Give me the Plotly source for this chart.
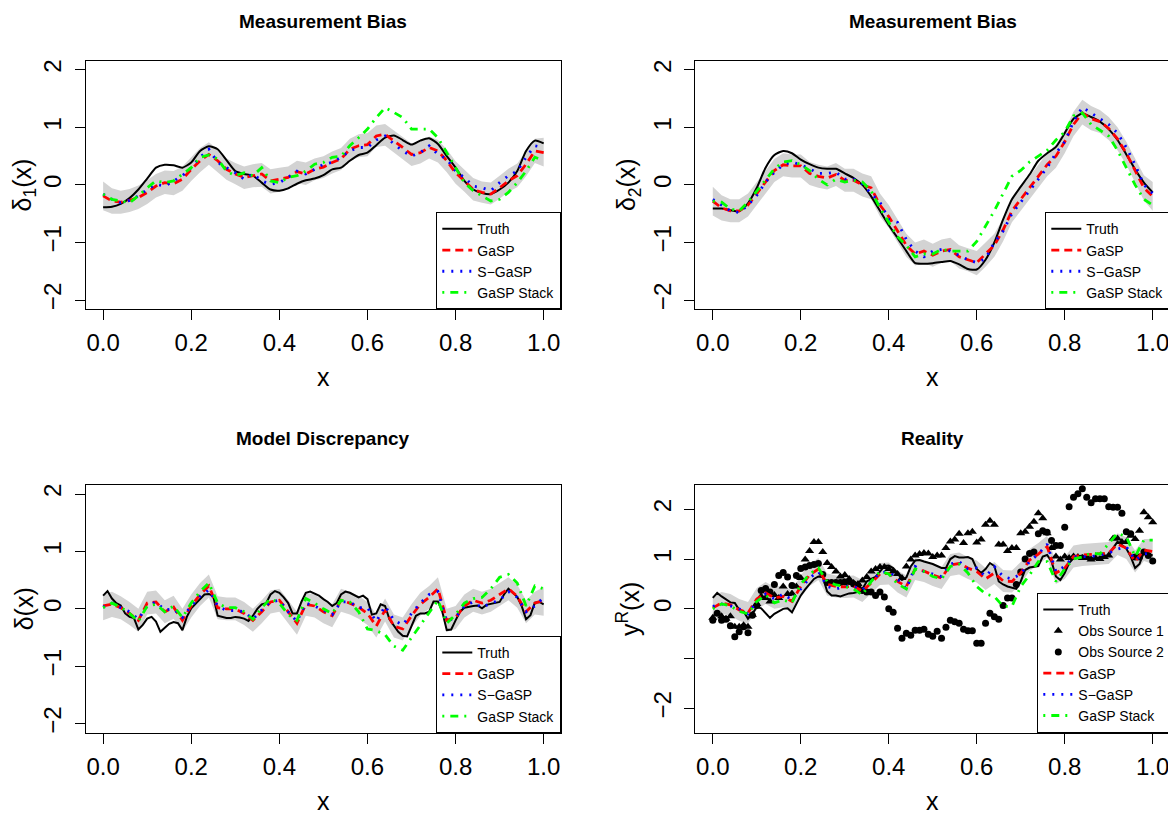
import plotly.graph_objects as go

# The page body adds an 8px margin, so the figure is laid out 8px smaller
OFF = 8
W, H = 1176 - OFF, 818 - OFF

# ---------------- data ----------------
x51 = [round(i * 0.02, 2) for i in range(51)]
x101 = [round(i * 0.01, 2) for i in range(101)]

# Panel 1: measurement bias delta_1
p1_truth = [-0.39,-0.38,-0.33,-0.23,-0.08,0.11,0.30,0.35,0.34,0.30,0.39,0.59,0.67,0.62,0.43,0.24,0.19,0.16,0.04,-0.08,
            -0.10,-0.06,0.02,0.08,0.11,0.17,0.27,0.30,0.42,0.52,0.56,0.69,0.82,0.86,0.78,0.70,0.77,0.81,0.71,0.50,
            0.30,0.07,-0.08,-0.14,-0.16,-0.08,0.04,0.24,0.59,0.77,0.72]
p1_gasp = [-0.19,-0.28,-0.30,-0.27,-0.22,-0.13,-0.02,0.04,0.02,0.10,0.27,0.42,0.53,0.42,0.27,0.19,0.13,0.16,0.19,0.07,
           0.10,0.13,0.23,0.19,0.27,0.31,0.39,0.45,0.62,0.68,0.70,0.85,0.88,0.77,0.65,0.53,0.56,0.65,0.59,0.42,
           0.21,0.07,-0.08,-0.13,-0.16,-0.05,0.07,0.16,0.36,0.59,0.56]
p1_sgasp = [-0.16,-0.25,-0.31,-0.27,-0.19,-0.08,0.01,-0.02,0.07,0.16,0.30,0.48,0.62,0.39,0.30,0.21,0.10,0.19,0.07,0.01,
            0.04,0.13,0.24,0.19,0.27,0.36,0.39,0.48,0.59,0.65,0.65,0.78,0.85,0.71,0.59,0.50,0.56,0.68,0.53,0.45,
            0.24,0.13,-0.02,-0.05,-0.10,0.04,0.16,0.24,0.48,0.68,0.65]
p1_stack = [-0.16,-0.25,-0.28,-0.31,-0.19,-0.05,0.07,0.04,0.07,0.19,0.30,0.48,0.52,0.45,0.24,0.16,0.21,0.16,0.30,0.07,
            0.04,0.13,0.16,0.24,0.36,0.39,0.48,0.50,0.68,0.82,0.97,1.17,1.34,1.26,1.17,0.97,0.97,0.97,0.82,0.56,
            0.30,0.04,-0.10,-0.19,-0.28,-0.25,-0.13,0.04,0.24,0.48,0.42]
p1_lo = [-0.44,-0.50,-0.50,-0.47,-0.42,-0.33,-0.22,-0.16,-0.18,-0.10,0.07,0.22,0.35,0.22,0.09,0.01,-0.07,-0.04,-0.03,-0.15,
         -0.12,-0.07,0.03,0.00,0.08,0.12,0.20,0.26,0.42,0.48,0.50,0.66,0.68,0.57,0.45,0.33,0.37,0.46,0.39,0.22,
         0.02,-0.12,-0.27,-0.31,-0.34,-0.24,-0.12,-0.04,0.15,0.38,0.32]
p1_hi = [0.06,-0.06,-0.10,-0.07,-0.01,0.08,0.19,0.25,0.24,0.32,0.48,0.64,0.74,0.62,0.46,0.38,0.32,0.36,0.38,0.27,
         0.30,0.32,0.42,0.39,0.46,0.50,0.58,0.64,0.80,0.88,0.90,1.03,1.06,0.95,0.84,0.72,0.75,0.84,0.78,0.62,
         0.41,0.27,0.12,0.06,0.04,0.16,0.28,0.37,0.58,0.80,0.82]

# Panel 2: measurement bias delta_2
p2_truth = [-0.41,-0.41,-0.44,-0.46,-0.32,-0.05,0.30,0.52,0.59,0.55,0.44,0.36,0.30,0.28,0.28,0.20,0.12,0.00,-0.20,-0.45,
            -0.70,-0.92,-1.15,-1.36,-1.37,-1.36,-1.34,-1.32,-1.38,-1.46,-1.47,-1.30,-1.00,-0.60,-0.25,-0.03,0.18,0.42,0.55,0.66,
            0.90,1.15,1.24,1.18,1.10,0.97,0.78,0.53,0.27,0.04,-0.13]
p2_gasp = [-0.28,-0.40,-0.45,-0.45,-0.35,-0.15,0.05,0.25,0.35,0.33,0.33,0.20,0.15,0.12,0.18,0.08,0.08,0.00,-0.05,-0.35,
           -0.55,-0.80,-1.05,-1.20,-1.15,-1.22,-1.15,-1.12,-1.25,-1.30,-1.35,-1.20,-1.05,-0.78,-0.45,-0.25,-0.05,0.15,0.35,0.50,
           0.75,1.05,1.25,1.15,1.10,0.98,0.80,0.55,0.25,-0.05,-0.20]
p2_sgasp = [-0.25,-0.35,-0.45,-0.48,-0.35,-0.18,0.05,0.22,0.35,0.40,0.35,0.28,0.20,0.20,0.22,0.10,0.10,0.02,-0.15,-0.30,
            -0.60,-0.65,-0.95,-1.15,-1.25,-1.15,-1.12,-1.15,-1.22,-1.30,-1.35,-1.28,-1.00,-0.80,-0.50,-0.30,-0.10,0.10,0.30,0.55,
            0.75,1.10,1.35,1.25,1.15,1.05,0.90,0.65,0.35,0.00,-0.15]
p2_stack = [-0.28,-0.30,-0.42,-0.45,-0.30,-0.10,0.10,0.28,0.40,0.42,0.35,0.25,0.10,0.00,0.10,0.05,0.08,0.05,-0.10,-0.40,
            -0.65,-0.90,-1.05,-1.25,-1.20,-1.20,-1.12,-1.15,-1.15,-1.15,-0.98,-0.72,-0.45,-0.15,0.15,0.25,0.40,0.50,0.60,0.78,
            0.92,1.20,1.25,1.05,0.95,0.85,0.60,0.30,0.00,-0.25,-0.35]
p2_lo = [-0.53,-0.62,-0.65,-0.65,-0.55,-0.35,-0.15,0.05,0.15,0.13,0.13,0.00,-0.05,-0.08,-0.02,-0.12,-0.12,-0.20,-0.25,-0.55,
         -0.75,-1.00,-1.25,-1.40,-1.35,-1.42,-1.35,-1.32,-1.45,-1.50,-1.57,-1.42,-1.25,-0.98,-0.65,-0.45,-0.25,-0.05,0.15,0.30,
         0.55,0.85,1.05,0.95,0.90,0.78,0.60,0.35,0.05,-0.27,-0.45]
p2_hi = [-0.03,-0.18,-0.25,-0.25,-0.15,0.05,0.25,0.45,0.55,0.53,0.53,0.40,0.35,0.32,0.38,0.28,0.28,0.20,0.15,-0.15,
         -0.35,-0.60,-0.85,-1.00,-0.95,-1.02,-0.95,-0.92,-1.05,-1.10,-1.15,-1.00,-0.85,-0.58,-0.25,-0.05,0.15,0.35,0.55,0.70,
         0.95,1.27,1.48,1.37,1.30,1.18,1.00,0.75,0.45,0.17,0.05]

# Panel 3: model discrepancy
p3_truth = [0.23,0.31,0.18,0.10,0.06,-0.08,-0.14,-0.16,-0.36,-0.28,
            -0.17,-0.14,-0.22,-0.40,-0.33,-0.26,-0.23,-0.25,-0.37,-0.14,
            0.01,0.09,0.17,0.25,0.26,0.22,-0.12,-0.14,-0.16,-0.16,
            -0.14,-0.15,-0.17,-0.21,-0.12,0.00,0.08,0.10,0.25,0.31,
            0.28,0.20,0.10,-0.08,-0.08,0.12,0.28,0.30,0.26,0.23,
            0.17,0.12,0.05,0.10,0.25,0.30,0.28,0.24,0.20,0.23,
            0.17,-0.10,-0.08,0.08,0.05,-0.18,-0.30,-0.40,-0.47,-0.48,
            -0.30,-0.12,-0.08,-0.08,-0.05,0.13,0.13,-0.05,-0.37,-0.36,
            -0.20,-0.05,0.02,0.04,0.05,0.06,0.01,0.07,0.09,0.11,
            0.12,0.25,0.35,0.28,0.21,0.05,-0.18,-0.11,0.11,0.12,
            0.08]
p3_gasp = [0.05,0.08,0.02,-0.08,-0.20,0.10,0.12,-0.05,0.03,-0.20,0.05,0.25,0.40,0.02,0.00,0.00,-0.08,-0.20,-0.05,0.12,
           0.15,-0.05,-0.25,0.08,0.05,-0.05,-0.12,0.15,0.10,0.03,-0.08,-0.30,-0.02,-0.30,-0.35,-0.12,0.08,0.20,0.35,-0.20,
           -0.15,0.05,0.15,0.10,0.15,0.25,0.35,0.22,-0.05,0.10,0.15]
p3_sgasp = [0.03,0.10,0.02,-0.05,-0.18,0.05,0.12,-0.02,0.00,-0.15,0.05,0.22,0.33,0.05,-0.03,-0.03,-0.05,-0.18,-0.02,0.12,
            0.15,-0.05,-0.22,0.10,0.05,-0.02,-0.10,0.12,0.12,0.02,0.02,-0.22,0.05,-0.20,-0.28,-0.08,0.10,0.25,0.30,-0.22,
            -0.15,0.05,0.12,0.02,0.10,0.15,0.30,0.20,-0.05,0.05,0.20]
p3_stack = [0.02,0.10,0.03,-0.08,-0.22,0.05,0.08,-0.05,0.05,-0.15,0.10,0.30,0.45,0.10,0.02,0.02,-0.05,-0.18,0.02,0.18,
            0.10,-0.10,-0.20,0.18,0.10,0.00,-0.08,0.15,0.12,-0.05,-0.35,-0.38,-0.45,-0.65,-0.72,-0.50,-0.28,-0.08,0.15,-0.25,
            -0.10,0.10,0.18,0.20,0.35,0.55,0.60,0.45,0.05,0.40,0.35]
p3_lo = [-0.20,-0.14,-0.18,-0.28,-0.40,-0.10,-0.08,-0.25,-0.17,-0.40,-0.15,0.05,0.20,-0.18,-0.20,-0.20,-0.28,-0.40,-0.25,-0.08,
         -0.05,-0.25,-0.45,-0.12,-0.15,-0.25,-0.32,-0.05,-0.10,-0.17,-0.28,-0.50,-0.22,-0.50,-0.55,-0.32,-0.12,0.00,0.15,-0.40,
         -0.35,-0.15,-0.05,-0.10,-0.05,0.05,0.15,0.02,-0.25,-0.10,-0.12]
p3_hi = [0.25,0.30,0.22,0.12,0.00,0.30,0.32,0.15,0.23,0.00,0.25,0.45,0.60,0.22,0.20,0.20,0.12,0.00,0.15,0.32,
         0.35,0.15,-0.05,0.28,0.25,0.15,0.08,0.35,0.30,0.23,0.12,-0.10,0.18,-0.10,-0.15,0.08,0.28,0.40,0.55,0.00,
         0.05,0.25,0.35,0.30,0.35,0.45,0.55,0.42,0.15,0.30,0.38]

# Panel 4: reality
p4_truth = [0.22,0.32,0.25,0.19,0.13,0.12,-0.02,-0.05,-0.20,-0.10,
            0.04,0.01,-0.08,-0.18,-0.10,-0.05,0.00,0.01,-0.07,0.10,
            0.27,0.39,0.50,0.60,0.65,0.64,0.35,0.27,0.27,0.25,
            0.28,0.31,0.32,0.34,0.40,0.55,0.60,0.64,0.75,0.86,
            0.87,0.82,0.72,0.58,0.63,0.85,0.97,0.98,0.95,0.93,
            0.90,0.86,0.82,0.82,1.00,1.06,1.03,1.03,1.04,1.00,
            0.80,0.72,0.80,0.92,0.86,0.55,0.49,0.45,0.42,0.40,
            0.55,0.78,0.83,0.84,0.86,1.05,1.08,0.95,0.65,0.58,
            0.72,0.92,1.02,1.05,1.07,1.05,1.02,1.00,1.04,1.05,
            1.07,1.22,1.35,1.28,1.21,1.05,0.82,0.90,1.14,1.10,
            1.07]
p4_obs1 = [-0.18,-0.10,-0.15,-0.20,-0.15,-0.36,-0.36,-0.33,-0.36,-0.12,
           0.10,0.25,0.22,0.15,0.28,0.22,0.45,0.30,0.31,0.45,
           0.62,0.99,1.16,1.34,1.34,1.14,0.92,0.84,0.75,0.65,
           0.68,0.60,0.52,0.50,0.57,0.64,0.75,0.80,0.84,0.84,
           0.80,0.75,0.70,0.62,0.85,0.99,1.07,1.10,1.12,1.11,
           1.04,1.07,1.07,1.22,1.35,1.39,1.51,1.32,1.52,1.55,
           1.33,1.39,1.69,1.77,1.69,1.29,1.29,1.16,1.22,1.22,
           1.52,1.55,1.65,1.75,1.92,1.82,1.52,1.22,1.05,0.99,
           1.05,1.02,1.05,1.04,1.02,1.02,0.99,1.02,1.00,1.04,
           1.07,1.41,1.41,1.34,1.34,1.47,1.40,1.57,1.94,1.84,
           1.74]
p4_obs2 = [-0.23,-0.09,-0.23,-0.21,-0.34,-0.56,-0.46,-0.36,-0.48,-0.13,
           0.07,0.37,0.41,0.34,0.49,0.67,0.73,0.64,0.47,0.67,
           0.81,0.84,0.87,0.89,0.91,0.69,0.53,0.53,0.53,0.53,
           0.54,0.55,0.50,0.47,0.37,0.34,0.34,0.27,0.34,0.24,
           0.00,-0.07,-0.39,-0.59,-0.49,-0.53,-0.43,-0.43,-0.41,-0.51,
           -0.55,-0.45,-0.59,-0.37,-0.23,-0.26,-0.29,-0.41,-0.44,-0.44,
           -0.69,-0.69,-0.29,-0.09,-0.16,-0.21,0.07,0.22,0.22,0.49,
           0.74,1.00,1.11,1.14,1.51,1.57,1.54,1.37,1.27,1.27,
           1.64,2.05,2.24,2.31,2.41,2.24,2.13,2.21,2.21,2.21,
           2.05,2.04,2.04,1.92,1.55,1.51,1.04,1.04,1.14,1.07,
           0.96]
p4_gasp = [0.02,0.12,0.08,-0.02,-0.08,0.20,0.32,0.22,0.25,0.15,0.45,0.68,0.80,0.49,0.45,0.44,0.45,0.36,0.52,0.70,
           0.71,0.55,0.45,0.80,0.76,0.68,0.62,0.88,0.91,0.82,0.75,0.60,0.72,0.56,0.55,0.72,0.98,1.10,1.25,0.72,
           0.82,1.05,1.08,1.09,1.11,1.12,1.30,1.22,0.95,1.18,1.15]
p4_sgasp = [0.05,0.10,0.06,0.00,-0.10,0.15,0.30,0.20,0.30,0.18,0.40,0.62,0.75,0.45,0.40,0.45,0.45,0.38,0.55,0.72,
            0.75,0.60,0.40,0.85,0.75,0.70,0.65,0.90,0.95,0.80,0.82,0.65,0.85,0.65,0.60,0.70,0.95,1.10,1.30,0.75,
            0.85,1.05,1.05,1.05,1.08,1.12,1.20,1.25,0.98,1.10,1.12]
p4_stack = [0.00,0.10,0.06,-0.05,-0.10,0.15,0.28,0.12,0.18,0.12,0.50,0.70,0.82,0.55,0.48,0.45,0.40,0.28,0.55,0.75,
            0.70,0.50,0.40,0.80,0.75,0.65,0.60,0.85,0.90,0.72,0.45,0.30,0.25,0.05,0.05,0.45,0.68,0.95,0.95,0.55,
            0.80,1.00,1.04,1.12,1.10,1.30,1.52,1.45,1.05,1.38,1.38]
p4_lo = [-0.22,-0.10,-0.14,-0.24,-0.30,-0.02,0.10,0.00,0.03,-0.07,0.23,0.46,0.58,0.27,0.23,0.22,0.23,0.14,0.30,0.48,
         0.49,0.33,0.23,0.58,0.54,0.46,0.40,0.66,0.69,0.60,0.53,0.38,0.50,0.34,0.33,0.50,0.76,0.88,1.03,0.50,
         0.60,0.83,0.86,0.87,0.89,0.90,1.08,1.00,0.73,0.96,0.90]
p4_hi = [0.26,0.34,0.30,0.20,0.14,0.42,0.54,0.44,0.47,0.37,0.67,0.90,1.02,0.71,0.67,0.66,0.67,0.58,0.74,0.92,
         0.93,0.77,0.67,1.02,0.98,0.90,0.84,1.10,1.13,1.04,0.97,0.82,0.94,0.78,0.77,0.94,1.20,1.32,1.47,0.94,
         1.04,1.27,1.30,1.31,1.33,1.34,1.52,1.44,1.17,1.40,1.40]

titles = ["Measurement Bias", "Measurement Bias", "Model Discrepancy", "Reality"]
ylabels = ["δ<sub>1</sub>(x)", "δ<sub>2</sub>(x)", "δ(x)", "y<sup>R</sup>(x)"]
xtick_vals = [0, 0.2, 0.4, 0.6, 0.8, 1.0]
xtick_text = ["0.0", "0.2", "0.4", "0.6", "0.8", "1.0"]
ytick_vals = [-2, -1, 0, 1, 2]
ytick_text = ["−2", "−1", "0", "1", "2"]
ytick_vals4 = [-2, 0, 1, 2]
ytick_text4 = ["−2", "0", "1", "2"]
legend_names = ["Truth", "Obs Source 1", "Obs Source 2", "GaSP", "S−GaSP", "GaSP Stack"]

# ---------------- layout helpers (targets in screen pixels) ----------------
FONT = "Liberation Sans, Arial, Helvetica, sans-serif"
def px_x(p): return (p - OFF) / W
def px_y(p): return 1 - (p - OFF) / H

boxes = {
    1: (85.5, 561.3, 59.7, 309.0),
    2: (695.2, 1170.3, 59.7, 309.0),
    3: (85.5, 561.3, 485.0, 733.7),
    4: (695.2, 1170.3, 485.0, 733.7),
}
yranges = {1: [-2.16, 2.16], 2: [-2.16, 2.16], 3: [-2.16, 2.16], 4: [-2.49, 2.49]}
title_y = {1: 21, 2: 21, 3: 439, 4: 439}
ylab_off = {1: 62, 2: 67, 3: 62, 4: 67}

fig = go.Figure()

GREY = "#D3D3D3"
def add_panel(k, truth_x, truth, gasp, sgasp, stack, lo, hi, obs1=None, obs2=None, spline=False):
    xa = "x" if k == 1 else f"x{k}"
    ya = "y" if k == 1 else f"y{k}"
    lg = "legend" if k == 1 else f"legend{k}"
    fig.add_trace(go.Scatter(x=x51 + x51[::-1], y=hi + lo[::-1], fill="toself", fillcolor=GREY,
                             line=dict(width=0), mode="lines", showlegend=False, hoverinfo="skip",
                             xaxis=xa, yaxis=ya))
    fig.add_trace(go.Scatter(x=truth_x, y=truth, mode="lines", name=legend_names[0],
                             line=dict(color="black", width=2, shape="spline" if spline else "linear", smoothing=0.6),
                             xaxis=xa, yaxis=ya, legend=lg))
    if obs1 is not None:
        fig.add_trace(go.Scatter(x=x101, y=obs1, mode="markers", name=legend_names[1],
                                 marker=dict(symbol="triangle-up", size=8, color="black"),
                                 xaxis=xa, yaxis=ya, legend=lg))
        fig.add_trace(go.Scatter(x=x101, y=obs2, mode="markers", name=legend_names[2],
                                 marker=dict(symbol="circle", size=7, color="black"),
                                 xaxis=xa, yaxis=ya, legend=lg))
    fig.add_trace(go.Scatter(x=x51, y=gasp, mode="lines", name=legend_names[3],
                             line=dict(color="#FF0000", width=2.8, dash="8px,5px"),
                             xaxis=xa, yaxis=ya, legend=lg))
    fig.add_trace(go.Scatter(x=x51, y=sgasp, mode="lines", name=legend_names[4],
                             line=dict(color="#0000FF", width=2.8, dash="2px,7px"),
                             xaxis=xa, yaxis=ya, legend=lg))
    fig.add_trace(go.Scatter(x=x51, y=stack, mode="lines", name=legend_names[5],
                             line=dict(color="#00FF00", width=2.8, dash="2px,6px,8px,6px"),
                             xaxis=xa, yaxis=ya, legend=lg))

add_panel(1, x51, p1_truth, p1_gasp, p1_sgasp, p1_stack, p1_lo, p1_hi, spline=True)
add_panel(2, x51, p2_truth, p2_gasp, p2_sgasp, p2_stack, p2_lo, p2_hi, spline=True)
add_panel(3, x101, p3_truth, p3_gasp, p3_sgasp, p3_stack, p3_lo, p3_hi)
add_panel(4, x101, p4_truth, p4_gasp, p4_sgasp, p4_stack, p4_lo, p4_hi, obs1=p4_obs1, obs2=p4_obs2)

layout = dict(width=W, height=H, margin=dict(l=0, r=0, t=0, b=0),
              paper_bgcolor="white", plot_bgcolor="white",
              font=dict(family=FONT, color="black"), showlegend=True)
annotations = []
for k, (x0, x1, y0, y1) in boxes.items():
    sx = "" if k == 1 else str(k)
    layout["xaxis" + sx] = dict(domain=[px_x(x0), px_x(x1)], range=[-0.04, 1.04], anchor="y" + sx,
                                tickvals=xtick_vals, ticktext=xtick_text, ticks="outside", ticklen=10,
                                tickwidth=1, tickcolor="black", showline=True, mirror=True,
                                linecolor="black", linewidth=1, showgrid=False, zeroline=False,
                                tickfont=dict(size=24, family=FONT), ticklabelstandoff=2)
    ydict = dict(domain=[px_y(y1), px_y(y0)], range=yranges[k], anchor="x" + sx,
                 tickvals=ytick_vals4 if k == 4 else ytick_vals,
                 ticktext=ytick_text4 if k == 4 else ytick_text,
                 ticks="outside", ticklen=10, tickwidth=1, tickcolor="black",
                 showline=True, mirror=True, linecolor="black", linewidth=1,
                 showgrid=False, zeroline=False, tickangle=-90,
                 tickfont=dict(size=24, family=FONT), ticklabelstandoff=4)
    if k == 4:
        ydict["minor"] = dict(tickmode="array", tickvals=[-1], ticks="outside", ticklen=10,
                              tickwidth=1, tickcolor="black", showgrid=False)
    layout["yaxis" + sx] = ydict
    cx = px_x((x0 + x1) / 2)
    annotations.append(dict(text="<b>" + titles[k - 1] + "</b>", x=cx, y=px_y(title_y[k]), xref="paper", yref="paper",
                            showarrow=False, xanchor="center", yanchor="middle", font=dict(size=19, family=FONT)))
    annotations.append(dict(text="x", x=cx, y=px_y(y1 + 68), xref="paper", yref="paper",
                            showarrow=False, xanchor="center", yanchor="middle", font=dict(size=25, family=FONT)))
    annotations.append(dict(text=ylabels[k - 1], x=px_x(x0 - ylab_off[k]), y=px_y((y0 + y1) / 2), xref="paper", yref="paper",
                            showarrow=False, xanchor="center", yanchor="middle", textangle=-90,
                            font=dict(size=25, family=FONT)))
    lname = "legend" if k == 1 else f"legend{k}"
    layout[lname] = dict(x=px_x(x1), y=px_y(y1), xanchor="right", yanchor="bottom",
                         bordercolor="black", borderwidth=1, bgcolor="white",
                         font=dict(size=14, family=FONT), itemwidth=30, tracegroupgap=0,
                         traceorder="normal")
layout["annotations"] = annotations
fig.update_layout(**layout)

fig.write_html("out.html")
